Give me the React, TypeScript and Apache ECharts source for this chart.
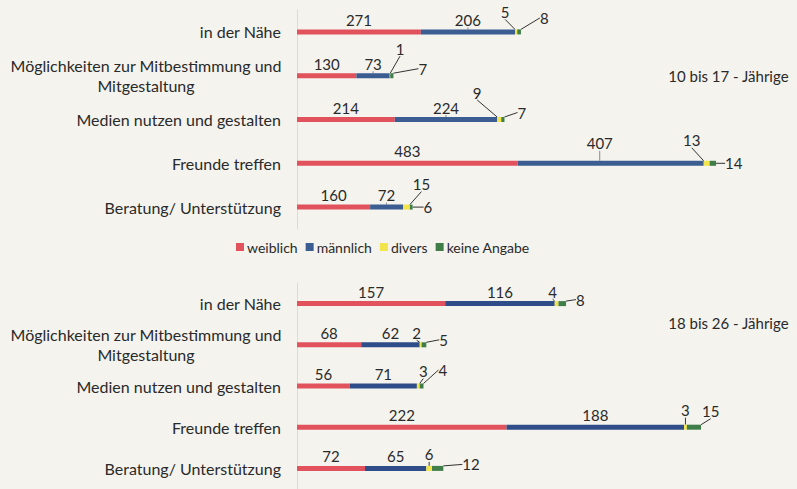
import React, { useEffect, useRef } from "react";
import * as echarts from "echarts";

const categories = [
  "in der Nähe",
  "Möglichkeiten zur Mitbestimmung und\nMitgestaltung",
  "Medien nutzen und gestalten",
  "Freunde treffen",
  "Beratung/ Unterstützung",
];
const seriesNames = ["weiblich", "männlich", "divers", "keine Angabe"];
const groupTitles = ["10 bis 17 - Jährige", "18 bis 26 - Jährige"];

// 10 bis 17 - Jährige
const young = [
  [271, 130, 214, 483, 160],
  [206, 73, 224, 407, 72],
  [5, 1, 9, 13, 15],
  [8, 7, 7, 14, 6],
];
// 18 bis 26 - Jährige
const older = [
  [157, 68, 56, 222, 72],
  [116, 62, 71, 188, 65],
  [4, 2, 3, 3, 6],
  [8, 5, 4, 15, 12],
];

// label displacement (style only), [dx, dy] per category
const youngShift = [
  null,
  [[0, 0], [0, 0], [0, 0], [-11, -8], [0, 0]],
  [[-11, -8], [10, -15], [-22, -15], [-15, -11], [15, -11]],
  [[14, -14], [20, -7], [8, -7], [4, 0], [6, 0]],
];
const olderShift = [
  null,
  null,
  [[-4, 0], [-4, 0], [5, -3], [0, -5], [0, -2]],
  [[5, -4], [8, -5], [10, -16], [-4, -16], [14, -4]],
];

const colors = ["#e2525c", "#3b5d92", "#f1e44c", "#3f7d49"];
const FONT = "Lato";
const TXT = "#2a2a2a";

function buildSeries(data: number[][], shifts: any[], gridIdx: number) {
  return data.map((vals, si) => {
    const shift = shifts[si];
    const s: any = {
      name: seriesNames[si],
      type: "bar",
      stack: "g" + gridIdx,
      xAxisIndex: gridIdx,
      yAxisIndex: gridIdx,
      barWidth: 5,
      data: vals,
      itemStyle: { color: gridIdx === 1 && si === 1 ? "#2f4d88" : colors[si] },
      label: {
        show: true,
        position: si === 3 ? "right" : "top",
        distance: si === 3 ? 5 : 2,
        fontFamily: FONT,
        fontSize: 15,
        color: TXT,
      },
    };
    if (shift) {
      s.labelLine = {
        show: true,
        lineStyle: { color: si === 1 ? "#888" : "#333", width: 1 },
      };
      s.labelLayout = (p: any) => {
        const o = shift[p.dataIndex] || [0, 0];
        if (o[0] === 0 && o[1] === 0) return {};
        return {
          x: p.labelRect.x + o[0],
          y: p.labelRect.y + o[1],
          align: "left",
          verticalAlign: "top",
        };
      };
    }
    return s;
  });
}

export default function App() {
  const ref = useRef<HTMLDivElement>(null);
  useEffect(() => {
    const chart = echarts.init(ref.current!, null, { renderer: "svg" });
    const yAxisBase = (gi: number) => ({
      type: "category",
      gridIndex: gi,
      data: categories,
      inverse: true,
      axisLine: { show: true, lineStyle: { color: "#dcdcd6", width: 1 } },
      axisTick: { show: false },
      axisLabel: {
        margin: 16,
        fontFamily: FONT,
        fontSize: 16,
        color: TXT,
        formatter: (v: string) =>
          v.indexOf("\n") >= 0
            ? v
                .split("\n")
                .map((s) => "{c|" + s + "}")
                .join("\n")
            : v,
        rich: {
          c: {
            width: 270,
            align: "center",
            fontFamily: FONT,
            fontSize: 16,
            color: TXT,
            lineHeight: 20,
          },
        },
      },
    });
    const xAxisBase = (gi: number, max: number) => ({
      type: "value",
      gridIndex: gi,
      min: 0,
      max,
      show: false,
    });
    chart.setOption({
      animation: false,
      backgroundColor: "#f4f3ee",
      textStyle: { fontFamily: FONT },
      title: [
        {
          text: groupTitles[0],
          right: 3,
          top: 63,
          textStyle: { fontFamily: FONT, fontSize: 15, fontWeight: "normal", color: TXT },
        },
        {
          text: groupTitles[1],
          right: 3,
          top: 310,
          textStyle: { fontFamily: FONT, fontSize: 15, fontWeight: "normal", color: TXT },
        },
      ],
      legend: {
        data: seriesNames,
        left: 231,
        top: 235,
        itemWidth: 8,
        itemHeight: 8,
        itemGap: 8,
        icon: "rect",
        textStyle: { fontFamily: FONT, fontSize: 14, color: TXT, padding: [0, 0, 0, -2] },
      },
      grid: [
        { left: 297, top: 10, height: 219, right: 43 },
        { left: 297, top: 283, height: 216, right: 28 },
      ],
      xAxis: [xAxisBase(0, 1000), xAxisBase(1, 500)],
      yAxis: [yAxisBase(0), yAxisBase(1)],
      series: [
        ...buildSeries(young, youngShift, 0),
        ...buildSeries(older, olderShift, 1),
      ],
    });
    return () => chart.dispose();
  }, []);
  return (
    <div
      ref={ref}
      style={{ position: "absolute", left: 0, top: 0, width: 797, height: 489 }}
    />
  );
}
